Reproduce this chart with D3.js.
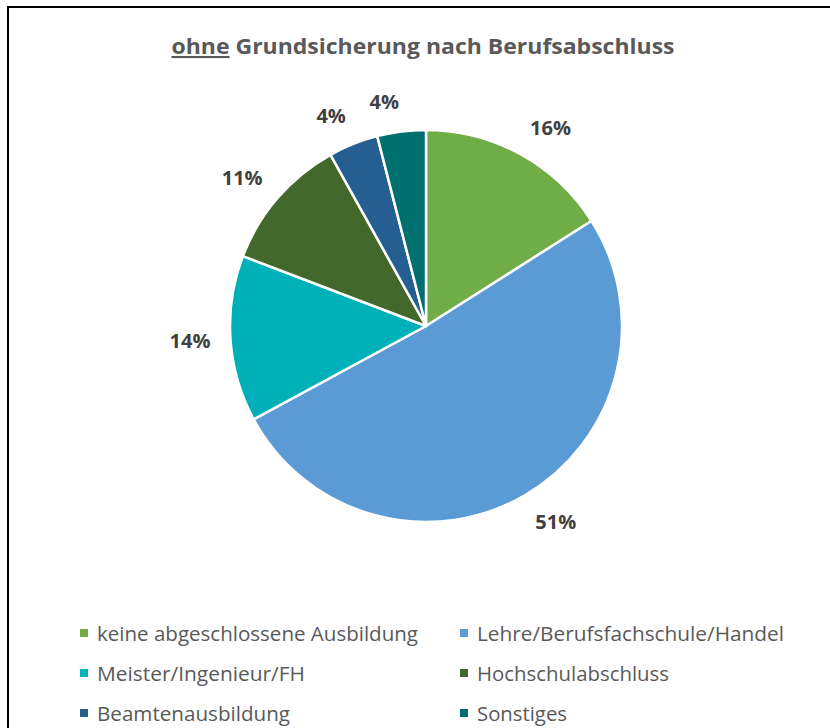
<!DOCTYPE html>
<html>
<head>
<meta charset="utf-8">
<script src="https://cdn.jsdelivr.net/npm/d3@7"></script>
<style>
  html, body { margin: 0; padding: 0; background: #fff; }
  svg { display: block; }
  text { font-family: "Open Sans", Lato, sans-serif; }
</style>
</head>
<body>
<svg id="chart" width="830" height="728"></svg>
<script>
const categories = [
  "keine abgeschlossene Ausbildung",
  "Lehre/Berufsfachschule/Handel",
  "Meister/Ingenieur/FH",
  "Hochschulabschluss",
  "Beamtenausbildung",
  "Sonstiges"
];
const values = [16.0, 51.1, 13.7, 11.1, 4.1, 4.0];
const colors = ["#70AD47", "#5B9BD5", "#00B0B9", "#43682B", "#255E91", "#006F70"];
const titleUnderlined = "ohne";
const titleRest = " Grundsicherung nach Berufsabschluss";

const svg = d3.select("#chart");
const W = 830, H = 728;

// chart frame (extends past the right and bottom edges)
svg.append("rect")
  .attr("x", 8).attr("y", 7)
  .attr("width", W + 20).attr("height", H + 20)
  .attr("fill", "#fff").attr("stroke", "#000").attr("stroke-width", 2);

// title
const title = svg.append("text")
  .attr("x", 423).attr("y", 54)
  .attr("text-anchor", "middle")
  .attr("font-size", 21).attr("font-weight", 700)
  .attr("fill", "#595959")
  .attr("textLength", 503).attr("lengthAdjust", "spacingAndGlyphs");
title.append("tspan").attr("text-decoration", "underline").text(titleUnderlined);
title.append("tspan").text(titleRest);

// pie
const cx = 426, cy = 326, r = 196;
const total = d3.sum(values);
const pie = d3.pie().sort(null).value(d => d.v);
const arcs = pie(categories.map((c, i) => ({ c, v: values[i], col: colors[i] })));
const arc = d3.arc().innerRadius(0).outerRadius(r);

const g = svg.append("g").attr("transform", `translate(${cx},${cy})`);
g.selectAll("path").data(arcs).enter().append("path")
  .attr("d", arc)
  .attr("fill", d => d.data.col)
  .attr("stroke", "#fff").attr("stroke-width", 2.5).attr("stroke-linejoin", "round");

// labels (outside end)
const pad = 20;
g.selectAll("text.lbl").data(arcs).enter().append("text")
  .attr("class", "lbl")
  .attr("font-size", 20).attr("font-weight", 700).attr("fill", "#404040")
  .attr("text-anchor", "middle").attr("dominant-baseline", "central")
  .text(d => Math.round(d.data.v / total * 100) + "%")
  .each(function(d) {
    const bb = this.getBBox();
    const a = (d.startAngle + d.endAngle) / 2;
    const ux = Math.sin(a), uy = -Math.cos(a);
    const x = (r + pad) * ux + Math.sign(ux) * bb.width / 2;
    const y = (r + pad) * uy + uy * bb.height / 2 * 0.8;
    d3.select(this).attr("x", x).attr("y", y);
  });

// legend
const legX = [80, 460], legY = [633, 673, 713];
const legW = [321, 307, 208, 192, 193, 90];
const leg = svg.append("g");
categories.forEach((c, i) => {
  const col = i % 2, row = Math.floor(i / 2);
  leg.append("rect")
    .attr("x", legX[col]).attr("y", legY[row] - 4)
    .attr("width", 8).attr("height", 8)
    .attr("fill", colors[i]);
  leg.append("text")
    .attr("x", legX[col] + 17).attr("y", legY[row])
    .attr("dominant-baseline", "central")
    .attr("font-size", 19.5).attr("fill", "#595959")
    .attr("textLength", legW[i]).attr("lengthAdjust", "spacingAndGlyphs")
    .text(c);
});
</script>
</body>
</html>
